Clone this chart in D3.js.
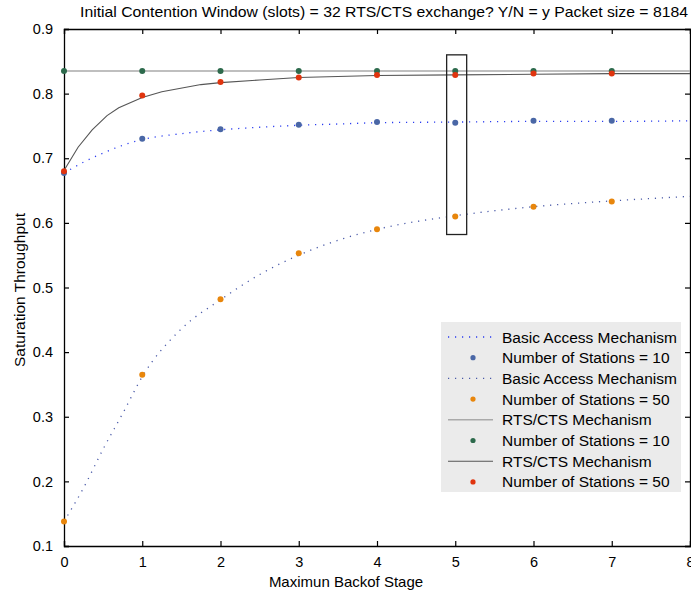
<!DOCTYPE html>
<html>
<head>
<meta charset="utf-8">
<script src="https://cdn.jsdelivr.net/npm/d3@7"></script>
<style>
  body { margin: 0; background: #fff; }
  svg { display: block; font-family: "Liberation Sans", Arial, sans-serif; }
</style>
</head>
<body>
<svg id="chart" width="691" height="593"></svg>
<script>
// Marker values at each backoff stage
const stages = [0, 1, 2, 3, 4, 5, 6, 7]
const basic10Marks = [0.677, 0.730, 0.745, 0.752, 0.756, 0.755, 0.758, 0.758]
const basic50Marks = [0.138, 0.365, 0.482, 0.553, 0.590, 0.610, 0.625, 0.633]
const rts10Marks = [0.835, 0.835, 0.835, 0.835, 0.835, 0.835, 0.835, 0.835]
const rts50Marks = [0.680, 0.797, 0.818, 0.825, 0.829, 0.829, 0.831, 0.831]

// Analytical curves
const curveStages = [0, 0.25, 0.5, 0.75, 1, 1.5, 2, 2.5, 3, 3.5, 4, 5, 6, 7, 8]
const basic10Curve = [0.677, 0.694, 0.708, 0.720, 0.729, 0.738, 0.744, 0.748, 0.751, 0.753, 0.755, 0.756, 0.757, 0.757, 0.758]
const basic50Curve = [0.138, 0.190, 0.250, 0.305, 0.362, 0.436, 0.481, 0.520, 0.550, 0.573, 0.590, 0.611, 0.625, 0.634, 0.641]
const rts10Stages = [0, 8]
const rts10Curve = [0.835, 0.835]
const rts50Stages = [0, 0.18, 0.36, 0.55, 0.7, 1, 1.25, 1.75, 2, 2.5, 3, 4, 5, 6, 7, 8]
const rts50Curve = [0.681, 0.717, 0.744, 0.766, 0.778, 0.794, 0.803, 0.814, 0.817, 0.821, 0.825, 0.828, 0.829, 0.830, 0.831, 0.831]

const xTicks = [0, 1, 2, 3, 4, 5, 6, 7, 8]
const yTicks = [0.1, 0.2, 0.3, 0.4, 0.5, 0.6, 0.7, 0.8, 0.9]

const legendLabels = [
  "Basic Access Mechanism", "Number of Stations = 10",
  "Basic Access Mechanism", "Number of Stations = 50",
  "RTS/CTS Mechanism", "Number of Stations = 10",
  "RTS/CTS Mechanism", "Number of Stations = 50"
]

const colors = {
  basic10Line: "#2a3cf0",
  basic50Line: "#4a5aa8",
  rts10Line: "#aaaaaa",
  rts50Line: "#555555",
  basic10Mark: "#4a67a6",
  basic50Mark: "#e8860c",
  rts10Mark: "#2d6a4c",
  rts50Mark: "#e0340e"
}

const box = { left: 64, right: 690, top: 29, bottom: 546 }

const svg = d3.select("#chart")

const x = d3.scaleLinear().domain([0, 8]).range([box.left, box.right])
const y = d3.scaleLinear().domain([0.1, 0.9]).range([box.bottom, box.top])

// Axes (ticks pointing inward on all four sides)
const tickLen = 5
const gx = svg.append("g")
  .attr("transform", `translate(0,${box.bottom})`)
  .call(d3.axisBottom(x).tickValues(xTicks).tickSize(-tickLen).tickPadding(11).tickFormat(d3.format("d")))
const gy = svg.append("g")
  .attr("transform", `translate(${box.left},0)`)
  .call(d3.axisLeft(y).tickValues(yTicks).tickSize(-tickLen).tickPadding(11).tickFormat(d3.format(".1f")))
svg.append("g")
  .attr("transform", `translate(0,${box.top})`)
  .call(d3.axisTop(x).tickValues(xTicks).tickSize(-tickLen).tickFormat(""))
svg.append("g")
  .attr("transform", `translate(${box.right},0)`)
  .call(d3.axisRight(y).tickValues(yTicks).tickSize(-tickLen).tickFormat(""))

svg.selectAll(".domain").attr("stroke", "#000").attr("stroke-width", 1.3)
svg.selectAll(".tick line").attr("stroke", "#000").attr("stroke-width", 1.2)
svg.selectAll(".tick text")
  .attr("font-size", 14.5)
  .attr("fill", "#000")
  .attr("font-family", "Liberation Sans, Arial, sans-serif")

// Lines
const pts = (xs, ys) => xs.map((d, i) => [d, ys[i]])
const smooth = d3.line().x(d => x(d[0])).y(d => y(d[1])).curve(d3.curveMonotoneX)
const straight = d3.line().x(d => x(d[0])).y(d => y(d[1]))

svg.append("path")
  .attr("d", straight(pts(rts10Stages, rts10Curve)))
  .attr("fill", "none").attr("stroke", colors.rts10Line).attr("stroke-width", 1.6)
svg.append("path")
  .attr("d", straight(pts(rts50Stages, rts50Curve)))
  .attr("fill", "none").attr("stroke", colors.rts50Line).attr("stroke-width", 1.1)
svg.append("path")
  .attr("d", smooth(pts(curveStages, basic10Curve)))
  .attr("fill", "none").attr("stroke", colors.basic10Line).attr("stroke-width", 1.3)
  .attr("stroke-dasharray", "1.2,5.8")
svg.append("path")
  .attr("d", smooth(pts(curveStages, basic50Curve)))
  .attr("fill", "none").attr("stroke", colors.basic50Line).attr("stroke-width", 1.3)
  .attr("stroke-dasharray", "1.2,5.8")

// Markers
const markerSets = [
  [basic10Marks, colors.basic10Mark],
  [basic50Marks, colors.basic50Mark],
  [rts10Marks, colors.rts10Mark],
  [rts50Marks, colors.rts50Mark]
]
markerSets.forEach(([vals, color]) => {
  svg.append("g").selectAll("circle")
    .data(stages)
    .join("circle")
    .attr("cx", d => x(d))
    .attr("cy", (d, i) => y(vals[i]))
    .attr("r", 3)
    .attr("fill", color)
})

// Highlight box around stage 5
svg.append("rect")
  .attr("x", x(4.89))
  .attr("y", y(0.860))
  .attr("width", x(5.146) - x(4.89))
  .attr("height", y(0.582) - y(0.860))
  .attr("fill", "none")
  .attr("stroke", "#222")
  .attr("stroke-width", 1.3)

// Legend
const legend = svg.append("g")
legend.append("rect")
  .attr("x", 441).attr("y", 322)
  .attr("width", 240).attr("height", 170)
  .attr("fill", "#ebebeb")

const legendStyles = [
  { type: "line", color: colors.basic10Line, dash: "1.2,5.8", width: 1.3 },
  { type: "mark", color: colors.basic10Mark },
  { type: "line", color: colors.basic50Line, dash: "1.2,5.8", width: 1.3 },
  { type: "mark", color: colors.basic50Mark },
  { type: "line", color: colors.rts10Line, dash: null, width: 1.6 },
  { type: "mark", color: colors.rts10Mark },
  { type: "line", color: colors.rts50Line, dash: null, width: 1.1 },
  { type: "mark", color: colors.rts50Mark }
]

legendLabels.forEach((label, i) => {
  const cy = 337 + i * 20.7
  const s = legendStyles[i]
  if (s.type === "line") {
    legend.append("line")
      .attr("x1", 448).attr("x2", 493)
      .attr("y1", cy).attr("y2", cy)
      .attr("stroke", s.color)
      .attr("stroke-width", s.width)
      .attr("stroke-dasharray", s.dash)
  } else {
    legend.append("circle")
      .attr("cx", 473).attr("cy", cy).attr("r", 2.6)
      .attr("fill", s.color)
  }
  legend.append("text")
    .attr("x", 502).attr("y", cy + 5.5)
    .attr("font-size", 15.5)
    .attr("fill", "#000")
    .text(label)
})

// Title and axis labels
svg.append("text")
  .attr("x", 384).attr("y", 17)
  .attr("text-anchor", "middle")
  .attr("font-size", 15)
  .attr("textLength", 608)
  .attr("lengthAdjust", "spacingAndGlyphs")
  .text("Initial Contention Window (slots) = 32 RTS/CTS exchange? Y/N = y Packet size = 8184")

svg.append("text")
  .attr("x", 346).attr("y", 587)
  .attr("text-anchor", "middle")
  .attr("font-size", 15)
  .text("Maximun Backof Stage")

svg.append("text")
  .attr("transform", "translate(25,290) rotate(-90)")
  .attr("text-anchor", "middle")
  .attr("font-size", 15.5)
  .text("Saturation Throughput")
</script>
</body>
</html>
